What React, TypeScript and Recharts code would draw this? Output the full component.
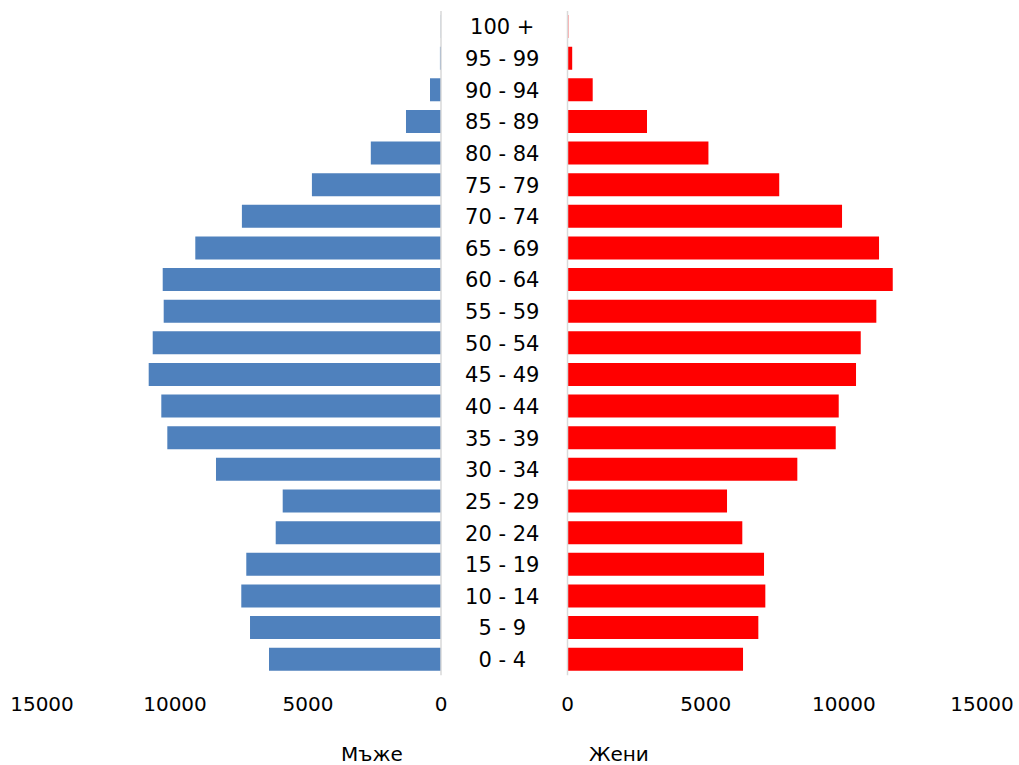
import React from "react";
import { BarChart, Bar, XAxis, YAxis } from "recharts";

const categories = [
  "100 +", "95 - 99", "90 - 94", "85 - 89", "80 - 84", "75 - 79", "70 - 74",
  "65 - 69", "60 - 64", "55 - 59", "50 - 54", "45 - 49", "40 - 44", "35 - 39",
  "30 - 34", "25 - 29", "20 - 24", "15 - 19", "10 - 14", "5 - 9", "0 - 4",
];
const maleValues = [
  10, 40, 414, 1316, 2639, 4853, 7485, 9237, 10462, 10425, 10838, 10989, 10515,
  10289, 8459, 5951, 6214, 7320, 7508, 7180, 6466,
];
const femaleValues = [
  30, 170, 912, 2877, 5100, 7662, 9935, 11274, 11770, 11176, 10612, 10441, 9815,
  9707, 8317, 5773, 6326, 7112, 7159, 6906, 6352,
];
const axisTicks = [0, 5000, 10000, 15000];
const maleLabel = "Мъже";
const femaleLabel = "Жени";

const data = categories.map((c, i) => ({
  age: c,
  male: maleValues[i],
  female: femaleValues[i],
}));

const FONT = "'DejaVu Sans', Verdana, sans-serif";
const W = 1019;
const H = 765;
const TOP = 11;
const XAXIS_H = 89.7;
const MID_W = 126.5;

const CategoryTick = (props: any) => {
  const { x, y, payload } = props;
  return (
    <text
      x={x + MID_W / 2 - 2}
      y={y}
      dy="0.36em"
      textAnchor="middle"
      fontFamily={FONT}
      fontSize={21}
      fill="#000"
    >
      {payload.value}
    </text>
  );
};

const makeSideLabel = (text: string, frac: number) => (props: any) => {
  const vb = props.viewBox || {};
  return (
    <text
      x={vb.x + vb.width * frac}
      y={vb.y + vb.height - 4}
      textAnchor="middle"
      fontFamily={FONT}
      fontSize={20}
      fill="#000"
    >
      {text}
    </text>
  );
};

const tickStyle = { fontFamily: FONT, fontSize: 20, fill: "#000" };

export default function App() {
  return (
    <div style={{ position: "absolute", left: 0, top: 0, width: W, height: H, background: "#fff" }}>
      <div style={{ position: "absolute", left: 0, top: 0 }}>
        <BarChart
          width={567.5}
          height={H}
          data={data}
          layout="vertical"
          margin={{ top: TOP, right: 0, bottom: 0, left: 42 }}
        >
          <XAxis
            type="number"
            domain={[0, 15000]}
            ticks={axisTicks}
            reversed
            axisLine={false}
            tickLine={false}
            tickSize={0}
            tickMargin={21}
            height={XAXIS_H}
            tick={tickStyle}
            interval={0}
            allowDataOverflow
            label={{ content: makeSideLabel(maleLabel, 0.827) } as any}
          />
          <YAxis
            type="category"
            dataKey="age"
            orientation="right"
            width={MID_W}
            axisLine={{ stroke: "#d9d9d9", strokeWidth: 1.5 }}
            tickLine={false}
            tickSize={0}
            tickMargin={0}
            interval={0}
            tick={<CategoryTick />}
          />
          <Bar dataKey="male" fill="#4F81BD" barSize={23} isAnimationActive={false} />
        </BarChart>
      </div>
      <div style={{ position: "absolute", left: 0, top: 0 }}>
        <BarChart
          width={W}
          height={H}
          data={data}
          layout="vertical"
          margin={{ top: TOP, right: W - 982, bottom: 0, left: 537.5 }}
        >
          <XAxis
            type="number"
            domain={[0, 15000]}
            ticks={axisTicks}
            axisLine={false}
            tickLine={false}
            tickSize={0}
            tickMargin={21}
            height={XAXIS_H}
            tick={tickStyle}
            interval={0}
            allowDataOverflow
            label={{ content: makeSideLabel(femaleLabel, 0.124) } as any}
          />
          <YAxis
            type="category"
            dataKey="age"
            width={30}
            axisLine={{ stroke: "#d9d9d9", strokeWidth: 1.5 }}
            tickLine={false}
            tick={false}
            interval={0}
          />
          <Bar dataKey="female" fill="#FF0000" barSize={23} isAnimationActive={false} />
        </BarChart>
      </div>
    </div>
  );
}
